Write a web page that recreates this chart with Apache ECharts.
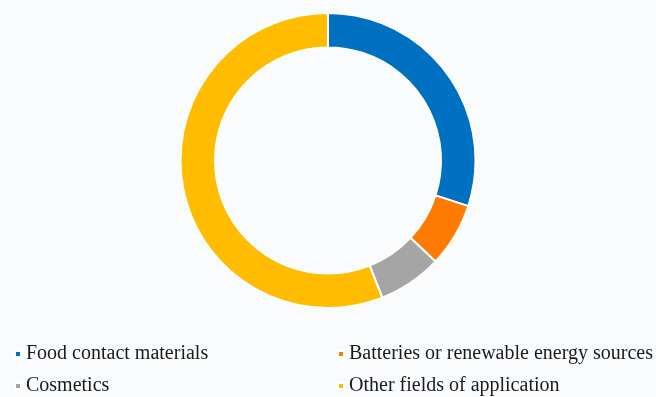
<!DOCTYPE html>
<html><head><meta charset="utf-8">
<script src="https://cdn.jsdelivr.net/npm/echarts@6/dist/echarts.min.js"></script>
<style>html,body{margin:0;padding:0;background:#fafbfd;}#c{width:656px;height:397px;}</style>
</head><body><div id="c"></div>
<script>
const categories = ["Food contact materials", "Batteries or renewable energy sources", "Cosmetics", "Other fields of application"];
const values = [30, 7, 7, 56];
const colors = ["#0070C0", "#FF7A00", "#A5A5A5", "#FFBC00"];

const chart = echarts.init(document.getElementById('c'), null, {renderer: 'canvas'});
const textStyle = {fontFamily: '"Liberation Serif", "Times New Roman", serif', fontSize: 20, color: '#1a1a1a'};
const legendPos = [[14, 344], [337, 344], [14, 376], [337, 376]];
chart.setOption({
  backgroundColor: '#fafbfd',
  animation: false,
  color: colors,
  legend: categories.map((n, i) => ({
    data: [n], left: legendPos[i][0], top: legendPos[i][1],
    itemWidth: 6, itemHeight: 6, itemGap: 5, icon: 'rect',
    textStyle: textStyle, selectedMode: false, padding: 0
  })),
  series: [{
    type: 'pie',
    center: [328, 160.5],
    radius: [113, 147.5],
    startAngle: 90,
    clockwise: true,
    label: {show: false},
    labelLine: {show: false},
    itemStyle: {borderColor: '#ffffff', borderWidth: 2},
    emphasis: {disabled: true},
    data: categories.map((n, i) => ({name: n, value: values[i]}))
  }]
});
</script></body></html>
